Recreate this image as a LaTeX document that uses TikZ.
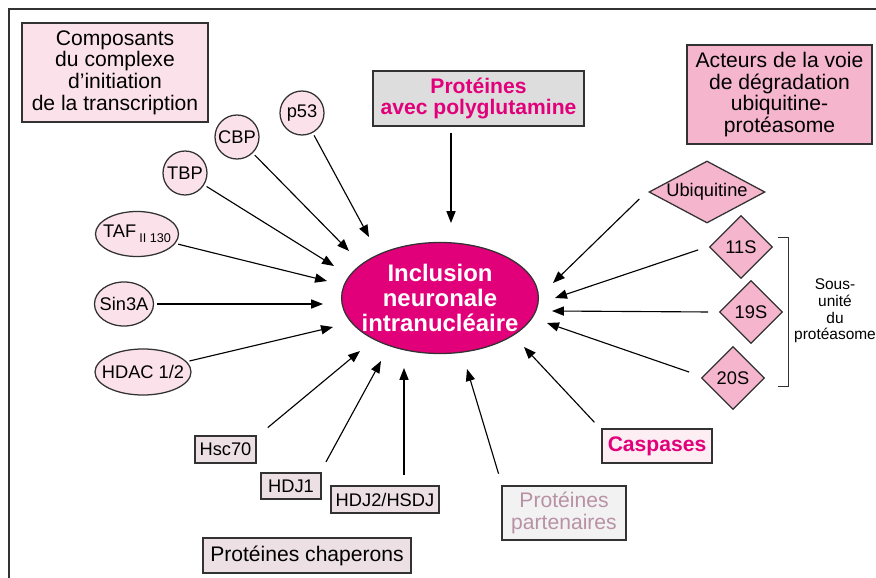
\documentclass[tikz,border=0pt]{standalone}
\usepackage{fontspec}
\setmainfont{Liberation Sans}
\usepackage{xcolor}
\definecolor{inmag}{RGB}{226, 0, 122}
\definecolor{inpale}{RGB}{251, 226, 234}
\definecolor{inrose}{RGB}{245, 181, 204}
\definecolor{ingrey}{RGB}{221, 221, 221}
\definecolor{inmauve}{RGB}{236, 224, 228}
\definecolor{incasp}{RGB}{253, 238, 243}
\definecolor{inpart}{RGB}{242, 242, 242}
\definecolor{inparttxt}{RGB}{185, 145, 165}
\definecolor{inframe}{RGB}{50, 50, 50}
\usepackage{tikz}
\usetikzlibrary{arrows.meta, positioning, shapes.geometric, calc}

\begin{document}
\begin{tikzpicture}[x=0.025cm, y=-0.025cm,
    box/.style={draw=inframe, line width=0.9pt, inner sep=0pt, align=center, font=\fontsize{15}{15.4}\selectfont},
    prot/.style={ellipse, draw=inframe, line width=0.9pt, fill=inpale, inner ysep=0pt, inner xsep=-0.18cm, font=\fontsize{13}{13}\selectfont},
    unitbox/.style={diamond, draw=inframe, line width=0.9pt, fill=inrose, inner sep=0pt, font=\fontsize{13}{13}\selectfont},
    chapbox/.style={box, fill=inmauve, font=\fontsize{13}{13}\selectfont},
    arr/.style={-{Triangle[length=8.5pt, width=6.5pt]}, line width=0.8pt, shorten <=2pt}]
      \useasboundingbox (0,0) rectangle (876,578);
      % Frame
      \draw[inframe, line width=1.2pt] (9,578) -- (9,9) -- (876,9);
      % Group titles
      \node[box, fill=inpale, minimum width=4.65cm, minimum height=2.475cm] (comp) at (115,72.5)
        {Composants\\du complexe\\d’initiation\\de la transcription};
      \node[box, fill=ingrey, text=inmag, font=\fontsize{15}{14.8}\selectfont\bfseries,
        minimum width=5.275cm, minimum height=1.375cm] (polyq) at (478.5,98.5) {Protéines\\avec polyglutamine};
      \node[box, fill=inrose, minimum width=4.625cm, minimum height=2.475cm] (act) at (779.5,94.5)
        {Acteurs de la voie\\de dégradation\\ubiquitine-\\protéasome};
      % Inclusion
      \node[ellipse, draw=inframe, line width=0.9pt, fill=inmag, text=white, inner ysep=0pt, inner xsep=-0.22cm,
        minimum width=4.875cm, minimum height=2.775cm, align=center,
        font=\fontsize{17}{17.5}\selectfont\bfseries] (incl) at (440,298) {Inclusion\\neuronale\\intranucléaire};
      % Transcription factors
      \node[prot, minimum width=1.1cm, minimum height=1.1cm] (p53) at (302,113) {p53};
      \node[prot, minimum width=1.1cm, minimum height=1.1cm] (cbp) at (237,137) {CBP};
      \node[prot, minimum width=1.1cm, minimum height=1.1cm] (tbp) at (185,173) {TBP};
      \node[prot, minimum width=2.075cm, minimum height=1.125cm] (taf) at (137,234)
        {TAF\,\raisebox{-0.55ex}{\fontsize{9}{9}\selectfont II 130}};
      \node[prot, minimum width=1.475cm, minimum height=1.1cm] (sin) at (124,304) {Sin3A};
      \node[prot, minimum width=2.375cm, minimum height=1.15cm] (hdac) at (143,372) {HDAC 1/2};
      % Ubiquitin-proteasome
      \node[unitbox, aspect=1.87, minimum width=2.9cm, minimum height=1.55cm] (ubi) at (707,192) {Ubiquitine};
      \node[unitbox, minimum width=1.575cm, minimum height=1.575cm] (s11) at (741,247) {11S};
      \node[unitbox, minimum width=1.575cm, minimum height=1.575cm] (s19) at (751,312) {19S};
      \node[unitbox, minimum width=1.575cm, minimum height=1.575cm] (s20) at (733,378) {20S};
      \draw[inframe, line width=0.7pt] (778,237) -- (788,237) -- (788,386) -- (778,386);
      \node[font=\fontsize{11}{11.8}\selectfont, align=center] (sous) at (835,311) {Sous-\\unité\\du\\protéasome};
      % Caspases and partners
      \node[box, fill=incasp, text=inmag, font=\fontsize{15}{15}\selectfont\bfseries,
        minimum width=2.75cm, minimum height=0.85cm] (casp) at (657,446) {Caspases};
      \node[box, fill=inpart, text=inparttxt, minimum width=3.1cm, minimum height=1.35cm] (part) at (564,513)
        {Protéines\\partenaires};
      % Chaperones
      \node[chapbox, minimum width=1.525cm, minimum height=0.675cm] (hsc) at (225.5,449.5) {Hsc70};
      \node[chapbox, minimum width=1.5cm, minimum height=0.65cm] (hdja) at (291,486) {HDJ1};
      \node[chapbox, minimum width=2.7cm, minimum height=0.675cm] (hdjb) at (385,499.5) {HDJ2/HSDJ};
      \node[box, fill=inmauve, minimum width=5.2cm, minimum height=0.875cm] (chap) at (307,555.5) {Protéines chaperons};
      % Arrow tips round the inclusion
      \coordinate (tP53) at (369,237);
      \coordinate (tCbp) at (349,251);
      \coordinate (tTbp) at (334,266);
      \coordinate (tTaf) at (327,281);
      \coordinate (tSin) at (323,304);
      \coordinate (tHdac) at (333,327);
      \coordinate (tPolyq) at (451,223);
      \coordinate (tUbi) at (553,283);
      \coordinate (t11) at (555,298);
      \coordinate (t19) at (552,311);
      \coordinate (t20) at (547,323);
      \coordinate (tCasp) at (524,347);
      \coordinate (tPart) at (467,369);
      \coordinate (tHdjb) at (404,368);
      \coordinate (tHdja) at (381,361);
      \coordinate (tHsc) at (360,351);
      % Arrows
      \draw[arr] (p53) -- (tP53);
      \draw[arr] (cbp) -- (tCbp);
      \draw[arr] (tbp) -- (tTbp);
      \draw[arr] (taf) -- (tTaf);
      \draw[arr] (sin) -- (tSin);
      \draw[arr] (hdac) -- (tHdac);
      \draw[arr] ([shift={(-27.5,4)}]polyq.south) -- (tPolyq);
      \draw[arr] ([shift={(-7,5)}]ubi.west) -- (tUbi);
      \draw[arr] ([shift={(-8,2)}]s11.west) -- (t11);
      \draw[arr] ([shift={(-8,0)}]s19.west) -- (t19);
      \draw[arr] ([shift={(-9,-5)}]s20.west) -- (t20);
      \draw[arr] ([shift={(-5,-4)}]casp.north west) -- (tCasp);
      \draw[arr] ([shift={(-2,-9)}]part.north west) -- (tPart);
      \draw[arr] ([shift={(19,-8)}]hdjb.north) -- (tHdjb);
      \draw[arr] ([shift={(3,-8)}]hdja.north east) -- (tHdja);
      \draw[arr] ([shift={(9,-6)}]hsc.north east) -- (tHsc);
    \end{tikzpicture}
\end{document}
